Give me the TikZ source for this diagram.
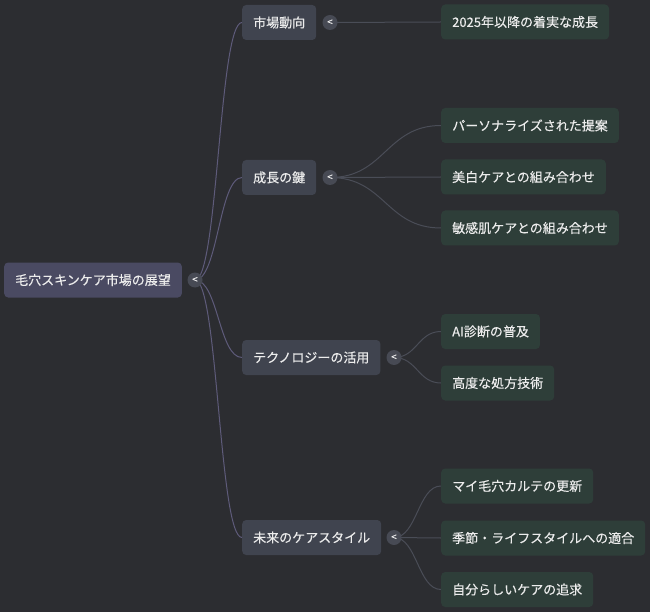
\documentclass[tikz,border=0pt]{standalone}
\usepackage{fontspec}
\setmainfont{Noto Sans CJK JP}[FakeBold=0.35]
\usetikzlibrary{backgrounds}

\definecolor{bgdark}{HTML}{2C2D31}
\definecolor{rootfill}{HTML}{4A4A62}
\definecolor{mainfill}{HTML}{40444F}
\definecolor{leaffill}{HTML}{2E3E39}
\definecolor{knobfill}{HTML}{474A54}
\definecolor{rootline}{HTML}{5E5B7A}
\definecolor{leafline}{HTML}{4A4D57}
\definecolor{labeltext}{HTML}{ECECEC}

\begin{document}
\begin{tikzpicture}[
    x=1pt, y=-1pt,
    font=\fontsize{13}{15}\selectfont,
    topic/.style={rectangle, rounded corners=4pt, anchor=west, text=labeltext,
        minimum height=35pt, inner xsep=11pt, inner ysep=0pt},
    rootbox/.style={topic, fill=rootfill},
    mainbox/.style={topic, fill=mainfill},
    leafbox/.style={topic, fill=leaffill},
    knob/.style={circle, fill=knobfill, minimum size=15pt, inner sep=0pt,
        text=labeltext, font=\fontsize{10}{10}\selectfont},
    rootlink/.style={draw=rootline, line width=1pt},
    leaflink/.style={draw=leafline, line width=1pt}
]
\useasboundingbox (0,0) rectangle (650,612);

\node[rootbox] (root) at (4,280) {毛穴スキンケア市場の展望};
\node[knob] (root-k) at (195,280) {<};

\node[mainbox] (market) at (242,22.5) {市場動向};
\node[knob] (market-k) at (330,22.5) {<};
\node[mainbox] (growth) at (242,177.5) {成長の鍵};
\node[knob] (growth-k) at (330,177.5) {<};
\node[mainbox] (tech) at (242,357.5) {テクノロジーの活用};
\node[knob] (tech-k) at (394,357.5) {<};
\node[mainbox] (future) at (242,537.5) {未来のケアスタイル};
\node[knob] (future-k) at (394,537.5) {<};

\node[leafbox] (steady) at (441,22) {2025年以降の着実な成長};
\node[leafbox] (personal) at (441,125.5) {パーソナライズされた提案};
\node[leafbox] (whitening) at (441,177) {美白ケアとの組み合わせ};
\node[leafbox] (sensitive) at (441,228) {敏感肌ケアとの組み合わせ};
\node[leafbox] (aidiag) at (441,331.5) {AI診断の普及};
\node[leafbox] (formula) at (441,383) {高度な処方技術};
\node[leafbox] (chart) at (441,486) {マイ毛穴カルテの更新};
\node[leafbox] (season) at (441,538) {季節・ライフスタイルへの適合};
\node[leafbox] (myself) at (441,589.5) {自分らしいケアの追求};

\begin{scope}[on background layer]
\fill[bgdark] (0,0) rectangle (650,612);
% root to main topics
\foreach \t in {market,growth,tech,future}
    \draw[rootlink] (root-k.center) .. controls +(23,0) and +(-23,0) .. (\t.west);
% main topics to leaves
\draw[leaflink] (market-k.center) -- (steady.west);
\foreach \t in {personal,whitening,sensitive}
    \draw[leaflink] (growth-k.center) .. controls +(55,0) and +(-55,0) .. (\t.west);
\foreach \t in {aidiag,formula}
    \draw[leaflink] (tech-k.center) .. controls +(23,0) and +(-23,0) .. (\t.west);
\foreach \t in {chart,season,myself}
    \draw[leaflink] (future-k.center) .. controls +(23,0) and +(-23,0) .. (\t.west);
\end{scope}
\end{tikzpicture}
\end{document}
